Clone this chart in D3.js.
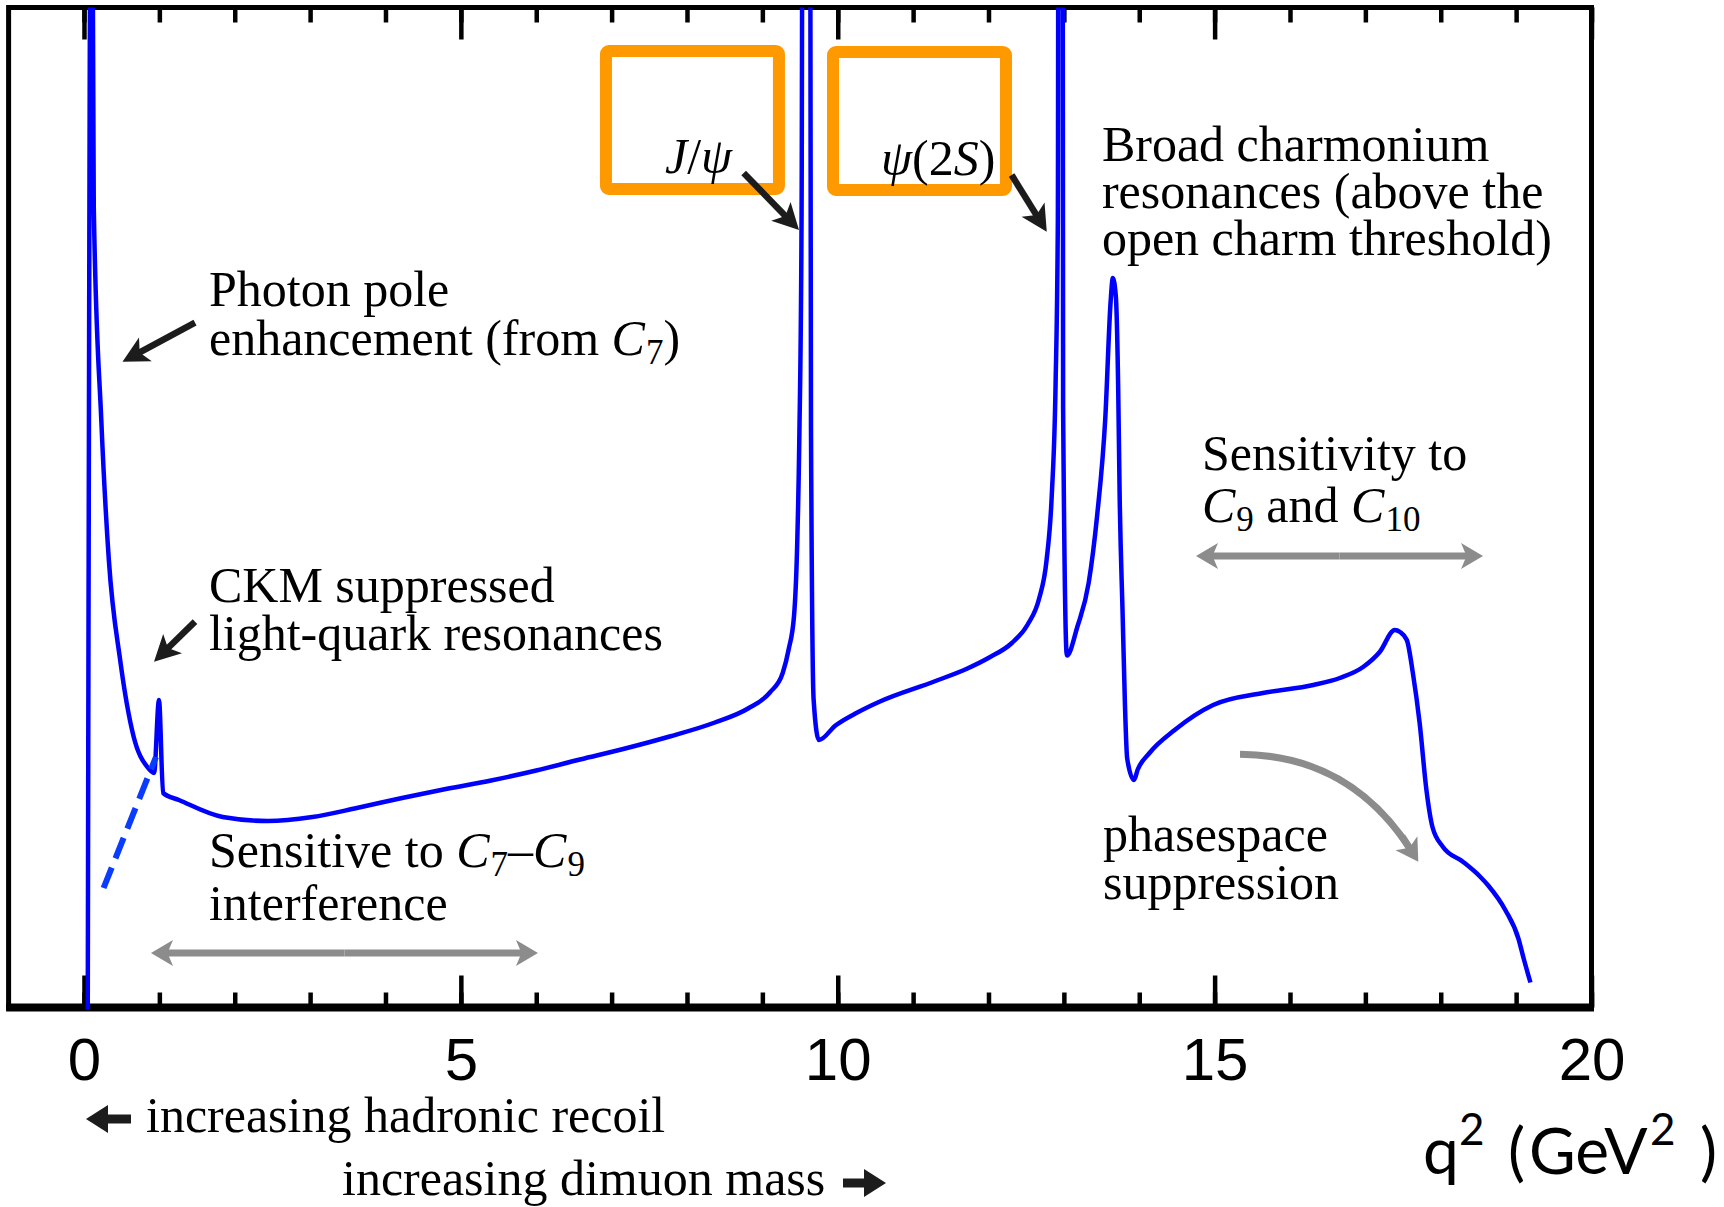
<!DOCTYPE html>
<html>
<head>
<meta charset="utf-8">
<script src="https://cdn.jsdelivr.net/npm/d3@7"></script>
<style>
  html, body { margin: 0; padding: 0; background: #fff; overflow: hidden; }
  svg { display: block; }
</style>
</head>
<body>
<svg id="chart" width="1724" height="1207"></svg>
<script>
// Dimuon invariant-mass-squared spectrum (q², GeV²) and the differential rate (arbitrary units)
const q2 = [0.05, 0.10, 0.13, 0.23, 0.33, 0.48, 0.66, 0.84, 0.93, 0.995,
            1.05, 1.26, 1.84, 2.44, 3.03, 3.62, 4.22, 4.80, 5.40, 6.00,
            6.58, 7.18, 7.77, 8.37, 8.81, 9.10, 9.27, 9.35, 9.42, 9.46,
            9.49, 9.52, 9.58, 9.645, 9.68, 9.75, 9.97, 10.26, 10.56, 11.28,
            11.72, 12.01, 12.31, 12.52, 12.67, 12.77, 12.84, 12.89, 12.92, 12.955,
            12.99, 13.04, 13.18, 13.33, 13.44, 13.55, 13.62, 13.65, 13.69, 13.72,
            13.74, 13.78, 13.81, 13.84, 13.93, 13.98, 14.13, 14.47, 14.98, 15.64,
            16.31, 16.66, 16.97, 17.19, 17.39, 17.46, 17.55, 17.63, 17.72, 17.81,
            17.89, 18.03, 18.29, 18.52, 18.63, 18.86, 19.03, 19.10, 19.19];
const rate = [-1, 130, 80, 58.7, 44.75, 34.75, 27.05, 24.05, 23.45, 30.75,
              21.45, 20.75, 19.05, 18.65, 19.05, 19.95, 20.95, 21.85, 22.7, 23.7,
              24.8, 25.9, 27.1, 28.5, 29.9, 31.5, 33.45, 35.85, 39.15, 45.75,
              56.75, 78.75, 400, 58, 30.8, 26.75, 28.2, 29.5, 30.6, 32.6,
              33.9, 35.0, 36.45, 38.3, 40.85, 44.7, 51.3, 62.3, 78.75, 400,
              60, 35.2, 38.1, 42.5, 49.1, 59.0, 70.55, 72.95, 71.05, 62.25,
              51.25, 39.2, 30.4, 24.9, 22.75, 23.8, 25.4, 27.75, 30.25, 31.45,
              32.25, 32.95, 34.05, 35.55, 37.75, 37.55, 36.75, 33.45, 28.45, 21.75,
              18.05, 16.05, 14.6, 13.1, 12.2, 9.7, 6.9, 4.9, 2.5];

// Extrapolation of the rate underneath the light-quark resonances (dashed)
const dashQ2 = [0.26, 0.955];
const dashRate = [11.95, 25.05];

// Axis ticks
const minorTicks = d3.range(0, 21);
const majorTicks = [0, 5, 10, 15, 20];

// Text annotations inside the frame: position (q², rate) and rich-text parts
// part flags: "i" = italic, "s" = subscript
const notes = [
  {q: 1.658,  r: 70.15, parts: [["Photon pole"]]},
  {q: 1.658,  r: 65.25, parts: [["enhancement (from "], ["C", "i"], ["7", "s"], [")"]]},
  {q: 1.658,  r: 40.55, parts: [["CKM suppressed"]]},
  {q: 1.658,  r: 35.75, parts: [["light-quark resonances"]]},
  {q: 1.658,  r: 14.05, parts: [["Sensitive to "], ["C", "i"], ["7", "s"], ["\u2013"], ["C", "i"], ["9", "s"]]},
  {q: 1.658,  r: 8.75,  parts: [["interference"]]},
  {q: 13.505, r: 84.65, parts: [["Broad charmonium"]]},
  {q: 13.505, r: 79.95, parts: [["resonances (above the"]]},
  {q: 13.505, r: 75.25, parts: [["open charm threshold)"]]},
  {q: 14.832, r: 53.75, parts: [["Sensitivity to"]]},
  {q: 14.832, r: 48.55, parts: [["C", "i"], ["9", "s"], [" and "], ["C", "i"], ["10", "s"]]},
  {q: 13.519, r: 15.65, parts: [["phasespace"]]},
  {q: 13.519, r: 10.85, parts: [["suppression"]]},
  {q: 7.708,  r: 83.45, parts: [["J", "i"], ["/"], ["\u03C8", "i"]]},
  {q: 10.573, r: 83.25, parts: [["\u03C8", "i"], ["(2"], ["S", "i"], [")"]]}
];

// Highlight boxes around the narrow charmonium labels: [q0, q1, r0, r1]
const boxes = [[6.925, 9.22, 81.85, 95.65], [9.937, 12.232, 81.75, 95.55]];

// Black pointer arrows: from (q, r) to (q, r)
const pointers = [
  [[1.473, 68.48], [0.511, 64.58]],
  [[1.473, 38.58], [0.929, 34.58]],
  [[8.752, 83.45], [9.486, 77.75]],
  [[12.307, 83.25], [12.773, 77.58]]
];
// Grey range arrows: [q from, q to, r]
const ranges = [[0.889, 6.023, 5.45], [14.753, 18.561, 45.15]];
// Grey bent arrow: start, control, tip
const bent = [[15.337, 25.32], [16.796, 25.25], [17.702, 14.58]];

const svg = d3.select("#chart");
const x = d3.scaleLinear().domain([-1, 20]).range([8.6, 1591.5]);
const y = d3.scaleLinear().domain([0, 100]).range([1007.5, 7.5]);

const SERIF = "'Liberation Serif', 'DejaVu Serif', serif";
const SANS = "'Liberation Sans', Arial, sans-serif";
const TITLE_FONT = "Lato, 'Open Sans', sans-serif";

// --- frame and ticks ---
const axes = svg.append("g");
const tickStyle = g => {
  g.select(".domain").remove();
  g.selectAll(".tick line").attr("stroke", "#000").attr("stroke-width", 4.5);
  g.selectAll(".tick text").remove();
};
axes.append("g").attr("transform", `translate(0,${y(0)})`)
  .call(d3.axisBottom(x).tickValues(minorTicks).tickSize(-15).tickSizeOuter(0)).call(tickStyle);
axes.append("g").attr("transform", `translate(0,${y(0)})`)
  .call(d3.axisBottom(x).tickValues(majorTicks).tickSize(-32).tickSizeOuter(0)).call(tickStyle);
axes.append("g").attr("transform", `translate(0,${y(100)})`)
  .call(d3.axisTop(x).tickValues(minorTicks).tickSize(-15).tickSizeOuter(0)).call(tickStyle);
axes.append("g").attr("transform", `translate(0,${y(100)})`)
  .call(d3.axisTop(x).tickValues(majorTicks).tickSize(-32).tickSizeOuter(0)).call(tickStyle);

// tick labels
const labelAxis = svg.append("g").attr("transform", `translate(0,${y(0)})`)
  .call(d3.axisBottom(x).tickValues(majorTicks).tickSize(0).tickPadding(30).tickFormat(d3.format("d")));
labelAxis.select(".domain").remove();
labelAxis.selectAll(".tick text")
  .attr("font-family", SANS).attr("font-size", 60).attr("fill", "#000");

svg.append("rect")
  .attr("x", x(-1)).attr("y", y(100))
  .attr("width", x(20) - x(-1)).attr("height", y(0) - y(100))
  .attr("fill", "none").attr("stroke", "#000").attr("stroke-width", 5);
svg.append("line")
  .attr("x1", x(-1) - 2.5).attr("x2", x(20) + 2.5).attr("y1", y(0)).attr("y2", y(0))
  .attr("stroke", "#000").attr("stroke-width", 8);

// --- highlight boxes ---
svg.append("g").selectAll("rect").data(boxes).join("rect")
  .attr("x", d => x(d[0])).attr("y", d => y(d[3]))
  .attr("width", d => x(d[1]) - x(d[0])).attr("height", d => y(d[2]) - y(d[3]))
  .attr("rx", 3).attr("fill", "none")
  .attr("stroke", "#ff9900").attr("stroke-width", 12).attr("stroke-linejoin", "round");

// --- spectrum ---
svg.append("clipPath").attr("id", "plotClip").append("rect")
  .attr("x", x(-1)).attr("y", y(100)).attr("width", x(20) - x(-1)).attr("height", y(0) - y(100) + 2);

const points = d3.zip(q2, rate);
const line = d3.line().x(d => x(d[0])).y(d => y(d[1])).curve(d3.curveMonotoneX);
svg.append("path").datum(points)
  .attr("clip-path", "url(#plotClip)")
  .attr("d", line)
  .attr("fill", "none").attr("stroke", "#0000ff").attr("stroke-width", 4.5)
  .attr("stroke-linejoin", "round");

svg.append("path").datum(d3.zip(dashQ2, dashRate))
  .attr("d", d3.line().x(d => x(d[0])).y(d => y(d[1])))
  .attr("fill", "none").attr("stroke", "#0a3cff").attr("stroke-width", 6)
  .attr("stroke-dasharray", "22,10");

// --- text ---
function richText(g, px, py, parts, size, family) {
  const t = g.append("text").attr("x", px).attr("y", py)
    .attr("font-family", family).attr("font-size", size).attr("fill", "#000");
  let shift = 0;
  parts.forEach(([s, f]) => {
    const ts = t.append("tspan").text(s);
    const target = f === "s" ? size * 0.17 : 0;
    if (target !== shift) ts.attr("dy", target - shift);
    shift = target;
    if (f === "i") ts.attr("font-style", "italic");
    if (f === "s") ts.attr("font-size", size * 0.7).attr("dx", 1);
  });
  return t;
}
const textLayer = svg.append("g");
notes.forEach(n => richText(textLayer, x(n.q), y(n.r), n.parts, 50, SERIF));

// --- arrows ---
function arrow(g, x1, y1, x2, y2, o) {
  const dx = x2 - x1, dy = y2 - y1, L = Math.hypot(dx, dy);
  const ux = dx / L, uy = dy / L, px = -uy, py = ux;
  const hl = o.headLen, hw = o.headWidth / 2, notch = o.notch ?? hl * 0.25;
  const nx = x2 - ux * (hl - notch), ny = y2 - uy * (hl - notch);
  g.append("line").attr("x1", x1).attr("y1", y1).attr("x2", nx + ux * 1).attr("y2", ny + uy * 1)
    .attr("stroke", o.color).attr("stroke-width", o.width);
  const bx = x2 - ux * hl, by = y2 - uy * hl;
  g.append("polygon")
    .attr("points", [[x2, y2], [bx + px * hw, by + py * hw], [nx, ny], [bx - px * hw, by - py * hw]].join(" "))
    .attr("fill", o.color);
}
const arrowLayer = svg.append("g");
const blackOpt = {headLen: 26, headWidth: 27, width: 6.5, color: "#1c1c1c"};
pointers.forEach(([a, b]) => arrow(arrowLayer, x(a[0]), y(a[1]), x(b[0]), y(b[1]), blackOpt));

const greyOpt = {headLen: 22, headWidth: 26, width: 7, color: "#8c8c8c"};
ranges.forEach(([q0, q1, r]) => {
  const xm = (x(q0) + x(q1)) / 2;
  arrow(arrowLayer, xm, y(r), x(q0), y(r), greyOpt);
  arrow(arrowLayer, xm, y(r), x(q1), y(r), greyOpt);
});

// bent arrow (quadratic), head aligned with the end tangent
{
  const [p0, c, p2] = bent.map(d => [x(d[0]), y(d[1])]);
  const tx = p2[0] - c[0], ty = p2[1] - c[1], tl = Math.hypot(tx, ty);
  const ux = tx / tl, uy = ty / tl;
  const end = [p2[0] - ux * 14, p2[1] - uy * 14];
  const path = d3.path();
  path.moveTo(p0[0], p0[1]);
  path.quadraticCurveTo(c[0], c[1], end[0], end[1]);
  arrowLayer.append("path").attr("d", path.toString())
    .attr("fill", "none").attr("stroke", "#8c8c8c").attr("stroke-width", 7);
  arrow(arrowLayer, p2[0] - ux * 30, p2[1] - uy * 30, p2[0], p2[1], greyOpt);
}

// --- labels below the axis ---
const below = svg.append("g");
richText(below, 146, 1132, [["increasing hadronic recoil"]], 50, SERIF);
richText(below, 342, 1195, [["increasing dimuon mass"]], 50, SERIF);
const boldArrow = {headLen: 22, headWidth: 28, width: 9, notch: 0, color: "#1c1c1c"};
arrow(below, 131, 1119, 86, 1119, boldArrow);
arrow(below, 843, 1183, 886, 1183, boldArrow);

// axis title: q² (GeV²)
const title = svg.append("g").attr("font-family", TITLE_FONT).attr("fill", "#000");
const titleBase = 1174;
[
  {t: "q", xp: 1423, size: 64, dy: 0},
  {t: "2", xp: 1459, size: 44, dy: -29},
  {t: "(", xp: 1508, size: 64, dy: 0},
  {t: "GeV", xp: 1529, size: 64, dy: 0},
  {t: "2", xp: 1650, size: 44, dy: -29},
  {t: ")", xp: 1700, size: 64, dy: 0}
].forEach(s => title.append("text").attr("x", s.xp).attr("y", titleBase + s.dy)
  .attr("font-size", s.size).text(s.t));
</script>
</body>
</html>
